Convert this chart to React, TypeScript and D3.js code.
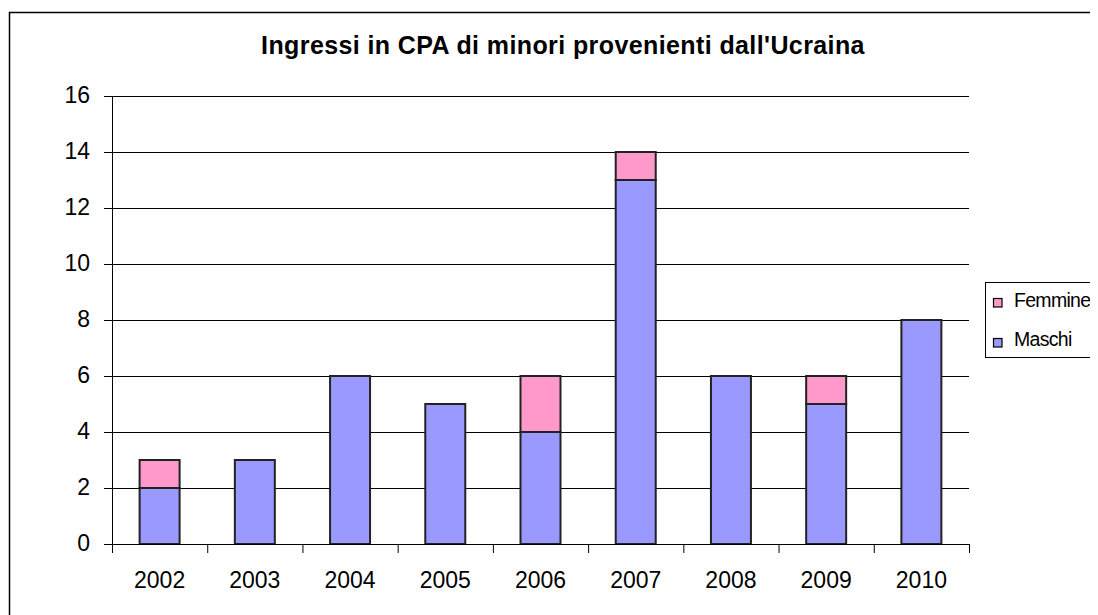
import React from "react";
import * as d3 from "d3";

const years = ["2002", "2003", "2004", "2005", "2006", "2007", "2008", "2009", "2010"];
const maschi = [2, 3, 6, 5, 4, 13, 6, 5, 8];
const femmine = [1, 0, 0, 0, 2, 1, 0, 1, 0];
const yTicks = [0, 2, 4, 6, 8, 10, 12, 14, 16];
const seriesNames = ["Femmine", "Maschi"];
const colors = { Maschi: "#9999FF", Femmine: "#FF99CC" };

export default function App() {
  const W = 1090, H = 607;
  // svg origin at page (8,8)
  const left = 104, right = 961, top = 88, bottom = 536;
  const x = d3.scaleBand().domain(years).range([left, right]).paddingInner(0).paddingOuter(0);
  const y = d3.scaleLinear().domain([0, 16]).range([bottom, top]);
  const bw = x.bandwidth() * 0.42;
  const font = "'Liberation Sans', Arial, sans-serif";
  return (
    <svg width={W} height={H} style={{ display: "block" }} fontFamily={font}>
      <rect x={1.5} y={4.5} width={W + 10} height={H + 10} fill="white" stroke="black" strokeWidth={1.5} />
      <text x={555} y={46} textAnchor="middle" fontWeight="bold" fontSize={25} letterSpacing={0.4}>
        Ingressi in CPA di minori provenienti dall'Ucraina
      </text>
      {yTicks.slice(1).map((t) => (
        <line key={t} x1={left} x2={right} y1={y(t) + 0.5} y2={y(t) + 0.5} stroke="black" strokeWidth={1} />
      ))}
      {yTicks.map((t) => (
        <g key={"yt" + t}>
          <line x1={left - 8} x2={left} y1={y(t) + 0.5} y2={y(t) + 0.5} stroke="black" />
          <text x={82} y={y(t) + 7} textAnchor="end" fontSize={23}>{t}</text>
        </g>
      ))}
      {years.map((yr, i) => {
        const cx = (x(yr) as number) + x.bandwidth() / 2;
        return (
          <g key={yr}>
            <rect x={cx - bw / 2} y={y(maschi[i])} width={bw} height={y(0) - y(maschi[i])}
              fill={colors.Maschi} stroke="#222" strokeWidth={2} />
            {femmine[i] > 0 && (
              <rect x={cx - bw / 2} y={y(maschi[i] + femmine[i])} width={bw}
                height={y(maschi[i]) - y(maschi[i] + femmine[i])}
                fill={colors.Femmine} stroke="#222" strokeWidth={2} />
            )}
            <text x={cx} y={580} textAnchor="middle" fontSize={23}>{yr}</text>
          </g>
        );
      })}
      <line x1={left + 0.5} x2={left + 0.5} y1={top} y2={bottom} stroke="black" />
      <line x1={left} x2={right} y1={bottom + 0.5} y2={bottom + 0.5} stroke="black" />
      {years.concat(["end"]).map((yr, i) => {
        const tx = left + i * x.bandwidth();
        return <line key={"xt" + i} x1={tx + 0.5} x2={tx + 0.5} y1={bottom} y2={bottom + 9} stroke="black" />;
      })}
      <rect x={977.5} y={274.5} width={130} height={75} fill="white" stroke="black" strokeWidth={1} />
      {seriesNames.map((s, i) => (
        <g key={s}>
          <rect x={985.5} y={290.5 + i * 40} width={8.5} height={8.5} fill={colors[s as "Maschi" | "Femmine"]} stroke="black" strokeWidth={1.2} />
          <text x={1006} y={299 + i * 39} fontSize={19.5} letterSpacing={-0.7}>{s}</text>
        </g>
      ))}
    </svg>
  );
}
